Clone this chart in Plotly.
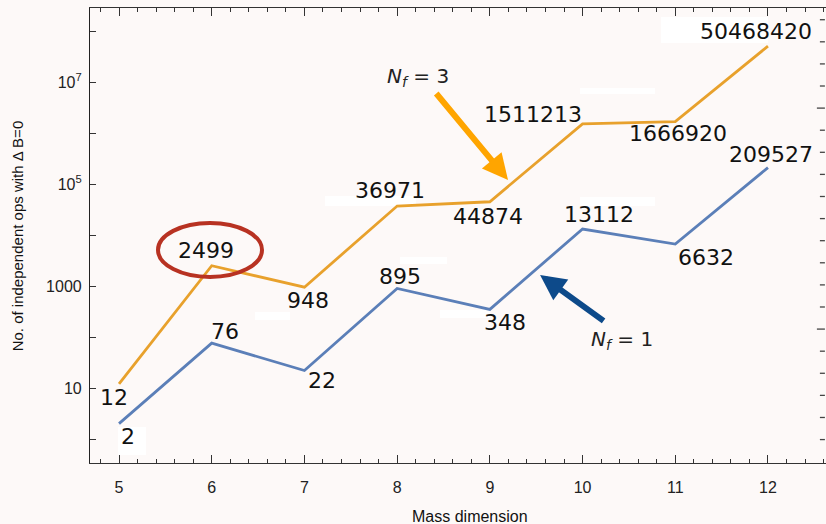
import math
import plotly.graph_objects as go

mass_dim = [5, 6, 7, 8, 9, 10, 11, 12]
nf1_ops = [2, 76, 22, 895, 348, 13112, 6632, 209527]
nf3_ops = [12, 2499, 948, 36971, 44874, 1511213, 1666920, 50468420]

y_tickvals = [1, 10, 100, 1000, 1e4, 1e5, 1e6, 1e7, 1e8]
y_ticktext = ["", "10", "", "1000", "", "10<sup>5</sup>", "", "10<sup>7</sup>", ""]
x_tickvals = [5, 6, 7, 8, 9, 10, 11, 12]
# right-hand frame ticks (own linear scale, long ticks at 5 and 15)
right_ticks = list(range(0, 20))
right_major = [5, 15]
right_range = (-1.06, 19.53)

# label offsets (px) relative to each point
nf3_offsets = [(-5, -14), (-6, 15), (4, -13), (-7, 16), (-2, -15), (-50, 9), (3, -12), (-12, 15)]
nf1_offsets = [(9, -13), (13, 12), (18, -10), (3, 12), (15, -13), (16, 15), (31, -13), (3, 13)]

BG = "#fdf9f8"
ORANGE = "#e8a12c"
BLUE = "#5b7fb8"

fig = go.Figure()
fig.add_trace(go.Scatter(x=mass_dim, y=nf3_ops, mode="lines",
                         line=dict(color=ORANGE, width=2.8), showlegend=False))
fig.add_trace(go.Scatter(x=mass_dim, y=nf1_ops, mode="lines",
                         line=dict(color=BLUE, width=2.8), showlegend=False))

annotations = []
for xs, ys, offs in [(mass_dim, nf3_ops, nf3_offsets), (mass_dim, nf1_ops, nf1_offsets)]:
    for xv, yv, (dx, dy) in zip(xs, ys, offs):
        annotations.append(dict(x=xv, y=math.log10(yv), xref="x", yref="y",
                                text=str(yv), showarrow=False,
                                xanchor="center", yanchor="middle",
                                xshift=dx, yshift=dy,
                                font=dict(family="DejaVu Sans", size=22, color="#111")))

# arrows
annotations.append(dict(x=9.196, y=5.078, xref="x", yref="y", text="",
                        showarrow=True, ax=-73, ay=-88, arrowcolor="#ffa500",
                        arrowwidth=6, arrowhead=2, arrowsize=0.85, standoff=0))
annotations.append(dict(x=9.542, y=3.216, xref="x", yref="y", text="",
                        showarrow=True, ax=65, ay=47, arrowcolor="#0d4a8a",
                        arrowwidth=6, arrowhead=2, arrowsize=0.85, standoff=0))
annotations.append(dict(x=0.4457, y=0.848, xref="paper", yref="paper",
                        xanchor="center", yanchor="middle",
                        text="<i>N</i><sub><i>f</i></sub> = 3", showarrow=False,
                        font=dict(family="DejaVu Sans", size=20, color="#222")))
annotations.append(dict(x=0.7228, y=0.2703, xref="paper", yref="paper",
                        xanchor="center", yanchor="middle",
                        text="<i>N</i><sub><i>f</i></sub> = 1", showarrow=False,
                        font=dict(family="DejaVu Sans", size=20, color="#222")))
# axis titles
annotations.append(dict(x=0.516, y=-0.1165, xref="paper", yref="paper",
                        xanchor="center", yanchor="middle",
                        text="Mass dimension", showarrow=False,
                        font=dict(family="Liberation Sans", size=16, color="#111")))
annotations.append(dict(x=-0.098, y=0.5, xref="paper", yref="paper",
                        xanchor="center", yanchor="middle",
                        text="No. of independent ops with Δ B=0", showarrow=False,
                        textangle=-90,
                        font=dict(family="Liberation Sans", size=15, color="#111")))

# faint white patches behind some labels (as in the original image)
white_boxes = [
    (0.038, 0.0761, 0.0176, 0.0791),
    (0.7758, 0.9212, 0.9231, 0.9802),
    (0.3193, 0.4429, 0.5648, 0.5868),
    (0.6658, 0.7677, 0.8110, 0.8242),
    (0.6658, 0.7677, 0.5648, 0.5846),
    (0.2242, 0.2717, 0.3143, 0.3319),
    (0.4212, 0.4851, 0.4374, 0.4527),
    (0.4755, 0.5435, 0.3187, 0.3363),
]
shapes = [dict(type="rect", xref="paper", yref="paper", x0=a, x1=b, y0=c, y1=d,
               fillcolor="white", line=dict(width=0), layer="below")
          for a, b, c, d in white_boxes]
shapes.append(dict(type="circle", xref="paper", yref="paper",
                   x0=0.0924, x1=0.2337, y0=0.4088, y1=0.5275,
                   line=dict(color="#b83222", width=4)))
# right frame ticks
span = right_range[1] - right_range[0]
for v in right_ticks:
    yp = (v - right_range[0]) / span
    ln = 8 if v in right_major else 5
    shapes.append(dict(type="line", xref="paper", yref="paper",
                       xsizemode="pixel", xanchor=0.9985, x0=-ln, x1=0,
                       y0=yp, y1=yp, line=dict(color="#444", width=1.3),
                       layer="above"))

fig.update_layout(
    width=826, height=524,
    margin=dict(l=90, r=0, t=8, b=61),
    paper_bgcolor=BG, plot_bgcolor=BG,
    annotations=annotations, shapes=shapes,
    xaxis=dict(range=[4.687, 12.626], tickvals=x_tickvals, ticks="inside",
               ticklen=8, tickcolor="#333", showline=True, linecolor="#333",
               linewidth=1.2, mirror="ticks", showgrid=False, zeroline=False,
               ticklabelstandoff=10,
               tickfont=dict(family="Liberation Sans", size=16, color="#222"),
               minor=dict(dtick=0.2, tick0=5, ticks="inside", ticklen=4,
                          tickcolor="#333", showgrid=False)),
    yaxis=dict(type="log", range=[-0.4706, 8.451], tickvals=y_tickvals,
               ticktext=y_ticktext, ticks="inside", ticklen=6, tickcolor="#333",
               showline=True, linecolor="#222", linewidth=1.2, mirror=False,
               showgrid=False, zeroline=False, ticklabelstandoff=4,
               tickfont=dict(family="Liberation Sans", size=16, color="#222")),
)

fig.write_html(
    "out.html", config={"displayModeBar": False},
    post_script=("document.documentElement.style.overflow='hidden';"
                 "document.body.style.overflow='hidden';"
                 "document.body.style.margin='0';"
                 "document.body.style.background='%s';" % BG))
